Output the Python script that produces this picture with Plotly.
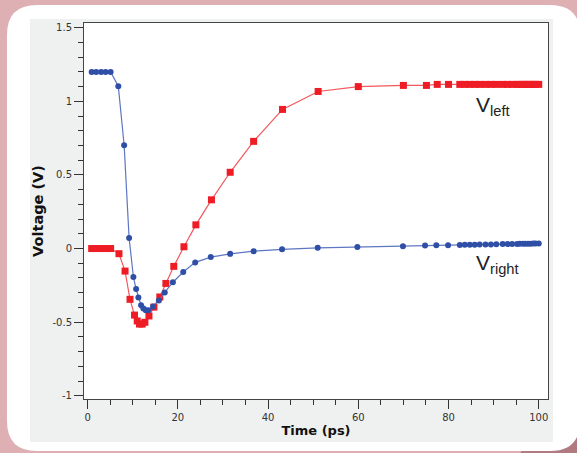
import plotly.graph_objects as go

# ---------------- data ----------------
t_right = [0.9, 1.9, 3.0, 4.0, 5.1, 6.8, 8.1, 9.2, 10.15, 10.75, 11.25, 11.85, 12.36, 12.9, 13.45,
           14.5, 15.8, 17.1, 18.9, 21.2, 23.85, 27.3, 31.6, 36.8, 43.1, 51.0, 59.8, 69.9, 74.8,
           77.3, 79.9, 82.5, 83.6, 84.7, 85.8, 86.9, 88.2, 89.4, 90.6, 92.0, 93.1, 94.1, 95.2,
           95.8, 96.5, 97.0, 97.6, 98.2, 98.8, 99.3, 100.0]
v_right = [1.2, 1.2, 1.2, 1.2, 1.2, 1.103, 0.702, 0.071, -0.193, -0.275, -0.333, -0.385, -0.408,
           -0.42, -0.42, -0.393, -0.353, -0.298, -0.229, -0.159, -0.094, -0.058, -0.036, -0.018,
           -0.005, 0.005, 0.01, 0.016, 0.021, 0.022, 0.023, 0.024, 0.025, 0.026, 0.026, 0.027,
           0.028, 0.028, 0.029, 0.030, 0.030, 0.031, 0.031, 0.032, 0.032, 0.032, 0.033, 0.033,
           0.034, 0.034, 0.035]

t_left = [0.9, 1.9, 3.0, 4.0, 5.1, 6.95, 8.3, 9.4, 10.4, 11.0, 11.5, 12.1, 12.7, 13.6, 14.7,
          16.0, 17.35, 19.1, 21.35, 24.0, 27.45, 31.6, 36.8, 43.2, 51.1, 60.0, 70.0, 75.1, 77.5,
          80.0, 82.5, 83.6, 84.7, 85.8, 86.9, 88.2, 89.4, 90.6, 92.0, 93.1, 94.1, 95.2, 95.8,
          96.5, 97.0, 97.6, 98.2, 98.8, 99.3, 100.0]
v_left = [0.0, 0.0, 0.0, 0.0, 0.0, -0.035, -0.153, -0.345, -0.452, -0.492, -0.513, -0.513,
          -0.501, -0.458, -0.398, -0.329, -0.237, -0.121, 0.012, 0.161, 0.331, 0.518, 0.728,
          0.945, 1.067, 1.1, 1.108, 1.108, 1.115, 1.115, 1.115, 1.115, 1.115, 1.115, 1.115,
          1.115, 1.115, 1.115, 1.115, 1.115, 1.115, 1.115, 1.115, 1.115, 1.115, 1.115, 1.115,
          1.115, 1.115, 1.115]

x_tick_vals = [0, 20, 40, 60, 80, 100]
x_tick_text = ["0", "20", "40", "60", "80", "100"]
y_tick_vals = [-1, -0.5, 0, 0.5, 1, 1.5]
y_tick_text = ["-1", "-0.5", "0", "0.5", "1", "1.5"]

label_left = "V<sub>left</sub>"
label_right = "V<sub>right</sub>"

# ---------------- layout geometry ----------------
W, H = 577, 453
L, R, T, B = 84, 29, 23, 54
PW, PH = W - L - R, H - T - B


def px(x):
    return (x - L) / PW


def py(y):
    return (H - B - y) / PH


def rounded_path(x0, y0, x1, y1, r):
    pts = [
        f"M {px(x0 + r)},{py(y0)}",
        f"L {px(x1 - r)},{py(y0)}",
        f"Q {px(x1)},{py(y0)} {px(x1)},{py(y0 + r)}",
        f"L {px(x1)},{py(y1 - r)}",
        f"Q {px(x1)},{py(y1)} {px(x1 - r)},{py(y1)}",
        f"L {px(x0 + r)},{py(y1)}",
        f"Q {px(x0)},{py(y1)} {px(x0)},{py(y1 - r)}",
        f"L {px(x0)},{py(y0 + r)}",
        f"Q {px(x0)},{py(y0)} {px(x0 + r)},{py(y0)}",
        "Z",
    ]
    return " ".join(pts)


fig = go.Figure()

fig.add_trace(go.Scatter(
    x=t_left, y=v_left, mode="lines+markers",
    line=dict(color="#f0585e", width=1.2),
    marker=dict(symbol="square", size=7, color="#ee1c25"),
    showlegend=False,
))
fig.add_trace(go.Scatter(
    x=t_right, y=v_right, mode="lines+markers",
    line=dict(color="#5d76c2", width=1.2),
    marker=dict(symbol="circle", size=6, color="#2f4fa6"),
    showlegend=False,
))

shapes = [
    dict(type="path", xref="paper", yref="paper", layer="below",
         path=f"M {px(520)},{py(453)} L {px(577)},{py(453)} L {px(577)},{py(395)} Z",
         fillcolor="#b07a80", line=dict(width=0)),
    dict(type="path", xref="paper", yref="paper", layer="below",
         path=rounded_path(7, 5, 580, 451, 30),
         fillcolor="#ffffff", line=dict(width=0)),
    dict(type="rect", xref="paper", yref="paper", layer="below",
         x0=px(30), x1=px(553), y0=py(442), y1=py(19),
         fillcolor="#eff1f0", line=dict(width=0)),
    dict(type="rect", xref="paper", yref="paper", layer="below",
         x0=0, x1=1, y0=0, y1=1,
         fillcolor="#ffffff", line=dict(width=0)),
]

tick_font = dict(family="DejaVu Sans", size=10, color="#333333")

fig.update_layout(
    width=W, height=H,
    margin=dict(l=L, r=R, t=T, b=B, pad=0),
    paper_bgcolor="#deb0b4",
    plot_bgcolor="rgba(0,0,0,0)",
    shapes=shapes,
    xaxis=dict(
        range=[-0.8, 102.05],
        tickmode="array", tickvals=x_tick_vals, ticktext=x_tick_text,
        ticks="outside", ticklen=9, tickwidth=1, tickcolor="#333333",
        minor=dict(tickmode="linear", tick0=0, dtick=5, ticks="outside", ticklen=5,
                   tickcolor="#333333", showgrid=False),
        showgrid=False, zeroline=False,
        showline=True, linecolor="#444444", linewidth=1, mirror=True,
        tickfont=tick_font,
        title=dict(text="<b>Time (ps)</b>",
                   font=dict(family="DejaVu Sans", size=13, color="#111111"), standoff=3),
    ),
    yaxis=dict(
        range=[-1.022, 1.532],
        tickmode="array", tickvals=y_tick_vals, ticktext=y_tick_text,
        ticks="outside", ticklen=9, tickwidth=1, tickcolor="#333333",
        minor=dict(tickmode="linear", tick0=0, dtick=0.1, ticks="outside", ticklen=5,
                   tickcolor="#333333", showgrid=False),
        showgrid=False, zeroline=False,
        showline=True, linecolor="#444444", linewidth=1, mirror=True,
        tickfont=tick_font,
        title=dict(text="<b>Voltage (V)</b>",
                   font=dict(family="DejaVu Sans", size=14.5, color="#111111"), standoff=5),
    ),
    annotations=[
        dict(text=label_left, x=85.6, y=0.965, xref="x", yref="y",
             xanchor="left", yanchor="middle", showarrow=False,
             font=dict(family="Liberation Sans", size=21, color="#222222")),
        dict(text=label_right, x=85.6, y=-0.106, xref="x", yref="y",
             xanchor="left", yanchor="middle", showarrow=False,
             font=dict(family="Liberation Sans", size=21, color="#222222")),
    ],
)

fig.write_html("out.html",
               config={"displayModeBar": False},
               post_script="document.body.style.margin='0';document.body.style.padding='0';")
